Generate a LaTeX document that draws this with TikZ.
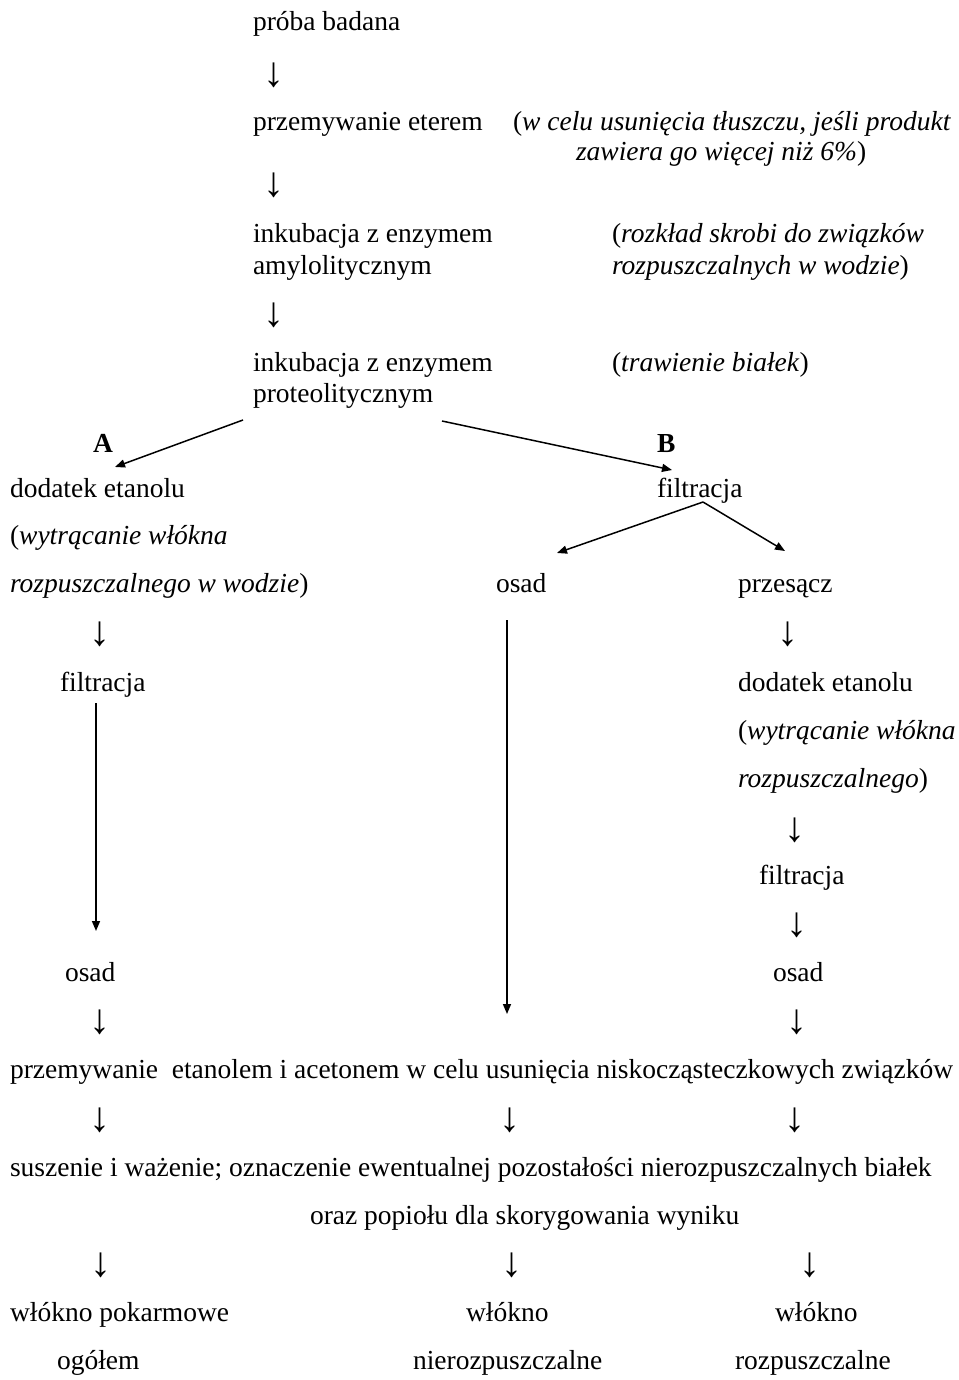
\documentclass[tikz,border=0pt]{standalone}
\usepackage{fontspec}
\setmainfont{Liberation Serif}
\usetikzlibrary{arrows.meta}
\newcommand{\fsz}{\fontsize{27.5}{31.6}\selectfont}
\newcommand{\afsz}{\fontsize{42}{44}\selectfont}
\tikzset{
  txt/.style={anchor=base west, inner sep=0pt, outer sep=0pt, font=\fsz},
  dn/.style={anchor=center, inner sep=0pt, outer sep=0pt, font=\afsz},
  con/.style={-{Triangle[length=10pt,width=8pt]}, line width=1.5pt}
}
\begin{document}
\begin{tikzpicture}[x=1pt,y=-1pt]
\useasboundingbox (0,0) rectangle (958,1380);
% top column
\node[txt] (proba) at (253,31) {próba badana};
\node[dn] (d1) at (274,75) {↓};
\node[txt] (eter) at (253,131) {przemywanie eterem};
\node[txt] (eterc1) at (513,131) {(\textit{w celu usunięcia tłuszczu, jeśli produkt}};
\node[txt] (eterc2) at (576,161) {\textit{zawiera go więcej niż 6\%})};
\node[dn] (d2) at (274,185) {↓};
\node[txt] (amy1) at (253,243) {inkubacja z enzymem};
\node[txt] (amy2) at (253,274) {amylolitycznym};
\node[txt] (amyc1) at (612,243) {(\textit{rozkład skrobi do związków}};
\node[txt] (amyc2) at (612,274) {\textit{rozpuszczalnych w wodzie})};
\node[dn] (d3) at (274,315) {↓};
\node[txt] (pro1) at (253,371) {inkubacja z enzymem};
\node[txt] (pro2) at (253,402) {proteolitycznym};
\node[txt] (proc) at (612,371) {(\textit{trawienie białek})};
% branches
\node[txt] (A) at (93,452) {\textbf{A}};
\node[txt] (B) at (657,452) {\textbf{B}};
\coordinate (sA) at (243,420);
\coordinate (eA) at (115,467);
\coordinate (sB) at (442,421);
\coordinate (eB) at (672,470);
\draw[con] (sA) -- (eA);
\draw[con] (sB) -- (eB);
% left column
\node[txt] (etA) at (10,497) {dodatek etanolu};
\node[txt] (etA1) at (10,544) {(\textit{wytrącanie włókna}};
\node[txt] (etA2) at (10,592) {\textit{rozpuszczalnego w wodzie})};
\node[dn] (d4) at (100,634) {↓};
\node[txt] (filA) at (60,691) {filtracja};
\coordinate (lA1) at (96,703);
\coordinate (lA2) at (96,931);
\draw[con] (lA1) -- (lA2);
\node[txt] (osA) at (65,981) {osad};
\node[dn] (d5) at (100,1022) {↓};
% right branch
\node[txt] (filB) at (657,497) {filtracja};
\coordinate (fB) at (703,502);
\coordinate (eO) at (557,553);
\coordinate (eP) at (785,551);
\draw[con] (fB) -- (eO);
\draw[con] (fB) -- (eP);
\node[txt] (osB) at (496,592) {osad};
\coordinate (lB1) at (507,620);
\coordinate (lB2) at (507,1014);
\draw[con] (lB1) -- (lB2);
\node[txt] (prz) at (738,592) {przesącz};
\node[dn] (d6) at (788,634) {↓};
\node[txt] (etC) at (738,691) {dodatek etanolu};
\node[txt] (etC1) at (738,739) {(\textit{wytrącanie włókna}};
\node[txt] (etC2) at (738,787) {\textit{rozpuszczalnego})};
\node[dn] (d7) at (795,830) {↓};
\node[txt] (filC) at (759,884) {filtracja};
\node[dn] (d8) at (797,925) {↓};
\node[txt] (osC) at (773,981) {osad};
\node[dn] (d9) at (797,1022) {↓};
% bottom
\node[txt] (wash) at (10,1078) {przemywanie\ \ etanolem i acetonem w celu usunięcia niskocząsteczkowych związków};
\node[dn] (d10) at (100,1120) {↓};
\node[dn] (d11) at (510,1120) {↓};
\node[dn] (d12) at (795,1120) {↓};
\node[txt] (dry1) at (10,1176) {suszenie i ważenie; oznaczenie ewentualnej pozostałości nierozpuszczalnych białek};
\node[txt] (dry2) at (310,1224) {oraz popiołu dla skorygowania wyniku};
\node[dn] (d13) at (101,1265) {↓};
\node[dn] (d14) at (512,1265) {↓};
\node[dn] (d15) at (810,1265) {↓};
\node[txt] (r1a) at (10,1321) {włókno pokarmowe};
\node[txt] (r1b) at (57,1369) {ogółem};
\node[txt] (r2a) at (466,1321) {włókno};
\node[txt] (r2b) at (413,1369) {nierozpuszczalne};
\node[txt] (r3a) at (775,1321) {włókno};
\node[txt] (r3b) at (735,1369) {rozpuszczalne};
\end{tikzpicture}
\end{document}
